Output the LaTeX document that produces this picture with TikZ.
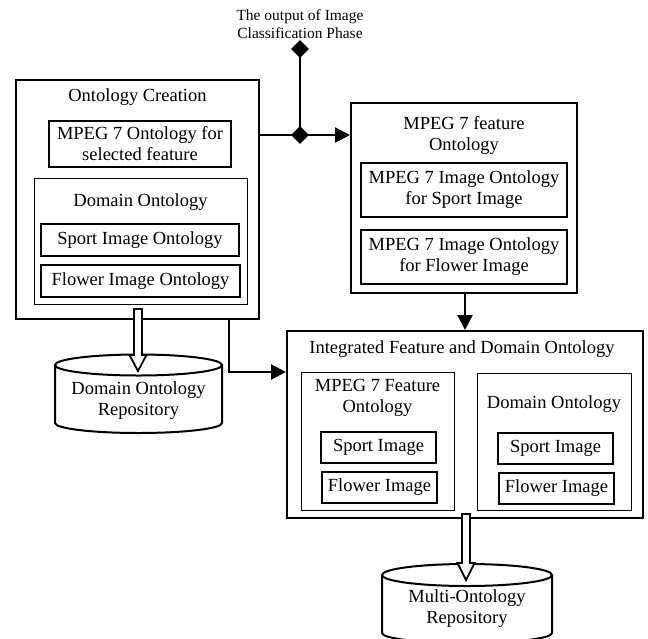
\documentclass[tikz,border=0pt]{standalone}
\usepackage{fontspec}
\setmainfont{Liberation Serif}
\usetikzlibrary{arrows.meta,shapes.geometric}
\newcommand{\mainf}{\fontsize{18.5}{21}\selectfont}
\newcommand{\smallf}{\fontsize{15.5}{18}\selectfont}
\begin{document}
\begin{tikzpicture}[x=1pt,y=-1pt,
  outerbox/.style={draw, line width=2pt, inner sep=0pt},
  inbox/.style={draw, line width=2.6pt, inner sep=0pt, align=center, font=\mainf},
  thinbox/.style={draw, line width=1pt, inner sep=0pt},
  ttl/.style={align=center, font=\mainf, inner sep=0pt},
  conn/.style={line width=2.2pt},
  tip/.style={-{Triangle[length=15pt,width=15pt]}},
  hollow/.style={draw, fill=white, line width=1.8pt, line join=miter},
  cyl/.style={line width=2pt},
  dmd/.style={diamond, fill=black, minimum size=18pt, inner sep=0pt}
]
\useasboundingbox (0,0) rectangle (648,638);

% Ontology Creation
\node[outerbox, minimum width=243pt, minimum height=239pt] (OC) at (137.5,199.5) {};
\node[ttl] (OCt) at (137.5,97) {Ontology Creation};
\node[inbox, minimum width=182pt, minimum height=46pt] (M7sel) at (140,144) {MPEG 7 Ontology for\\selected feature};
\node[thinbox, minimum width=213pt, minimum height=126pt] (DO) at (140.5,241) {};
\node[ttl] (DOt) at (140.5,202) {Domain Ontology};
\node[inbox, minimum width=198pt, minimum height=32pt] (SIO) at (140,240) {Sport Image Ontology};
\node[inbox, minimum width=199pt, minimum height=32pt] (FIO) at (140.5,281) {Flower Image Ontology};

% MPEG 7 feature Ontology
\node[outerbox, minimum width=226pt, minimum height=190pt] (MF) at (464,198) {};
\node[ttl] (MFt) at (464,135) {MPEG 7 feature\\Ontology};
\node[inbox, minimum width=206pt, minimum height=54pt] (MS) at (464,190) {MPEG 7 Image Ontology\\for Sport Image};
\node[inbox, minimum width=206pt, minimum height=54pt] (MFl) at (464,257) {MPEG 7 Image Ontology\\for Flower Image};

% Integrated
\node[outerbox, minimum width=356pt, minimum height=187pt] (IFD) at (465,424.5) {};
\node[ttl] (IFDt) at (462,349) {Integrated Feature and Domain Ontology};
\node[thinbox, minimum width=153pt, minimum height=138pt] (LF) at (377.5,441) {};
\node[ttl] (LFt) at (377.5,398) {MPEG 7 Feature\\Ontology};
\node[inbox, minimum width=115pt, minimum height=31pt] (LS) at (378.5,447.5) {Sport Image};
\node[inbox, minimum width=115pt, minimum height=31pt] (LFl) at (379.5,487.5) {Flower Image};
\node[thinbox, minimum width=154pt, minimum height=137pt] (RD) at (554,441.5) {};
\node[ttl] (RDt) at (554,404) {Domain Ontology};
\node[inbox, minimum width=115pt, minimum height=31pt] (RS) at (555.5,448.5) {Sport Image};
\node[inbox, minimum width=115pt, minimum height=31pt] (RFl) at (556.5,488.5) {Flower Image};

% Top label and junction
\node[align=center, font=\smallf, inner sep=0pt] (lbl) at (300,24) {The output of Image\\Classification Phase};
\node[dmd] (D1) at (300,49) {};
\node[dmd] (J) at (300,135) {};
\draw[conn] (D1.center) -- (J.center);
\draw[conn, tip] (OC.east |- J) -- (J.center) -- (MF.west |- J);
\draw[conn, tip] (MF.south -| 465,0) -- (IFD.north -| 465,0);
\coordinate (c1) at (229,372);
\draw[conn, tip] (OC.south -| c1) -- (c1) -- (IFD.west |- c1);

% Cylinders
\draw[cyl] (55,365) -- (55,423) arc[start angle=180, end angle=360, x radius=83.5pt, y radius=10pt] -- (222,365);
\draw[cyl, fill=white] (138.5,365) ellipse[x radius=83.5pt, y radius=10.5pt];
\node[ttl] (DOR) at (138.5,401) {Domain Ontology\\Repository};

\draw[cyl] (382,575) -- (382,633) arc[start angle=180, end angle=360, x radius=85pt, y radius=10pt] -- (552,575);
\draw[cyl, fill=white] (467,575) ellipse[x radius=85pt, y radius=11pt];
\node[ttl] (MOR) at (467,609) {Multi-Ontology\\Repository};

% Hollow arrows
\coordinate (h1) at (138,309);
\draw[hollow] (h1) ++(-4,0) -- ++(0,46) -- ++(-4.5,0) -- ++(8.5,16) -- ++(8.5,-16) -- ++(-4.5,0) -- ++(0,-46) -- cycle;
\coordinate (h2) at (466,514);
\draw[hollow] (h2) ++(-4,0) -- ++(0,49) -- ++(-4.5,0) -- ++(8.5,17) -- ++(8.5,-17) -- ++(-4.5,0) -- ++(0,-49) -- cycle;
\end{tikzpicture}
\end{document}
